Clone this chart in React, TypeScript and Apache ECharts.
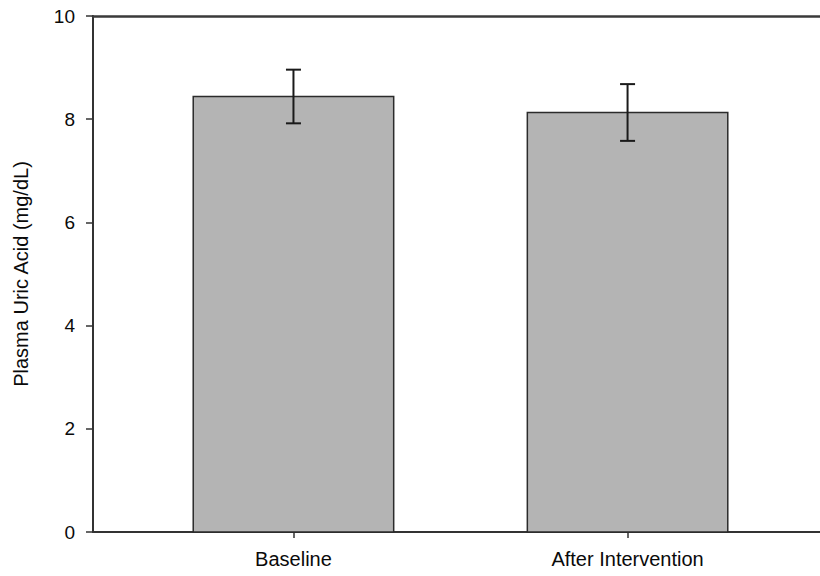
import React, { useEffect, useRef } from "react";
import * as echarts from "echarts";

// Plasma uric acid before and after the intervention (mean ± SD)
const categories = ["Baseline", "After Intervention"];
const meanValues = [8.44, 8.13];
const errorValues = [0.52, 0.55];
const yTicks = [0, 2, 4, 6, 8, 10];

const AXIS_COLOR = "#333333";
const TEXT_COLOR = "#0a0a0a";
const FONT = "'Liberation Sans', Arial, sans-serif";
const X_MIN = 0.4;
const X_MAX = 2.576;

export default function App() {
  const ref = useRef<HTMLDivElement>(null);

  useEffect(() => {
    if (!ref.current) return;
    const chart = echarts.init(ref.current, null, { renderer: "svg" });

    const positions = categories.map((_, i) => i + 1);
    const barData = positions.map((x, i) => [x, meanValues[i]]);
    const errData = positions.map((x, i) => [x, meanValues[i], errorValues[i]]);
    const halfBar = 0.3;

    chart.setOption({
      animation: false,
      backgroundColor: "#ffffff",
      grid: { left: 93, right: 0, top: 16, bottom: 44, containLabel: false },
      xAxis: [
        {
          type: "value",
          min: X_MIN,
          max: X_MAX,
          position: "bottom",
          axisLine: { show: true, lineStyle: { color: AXIS_COLOR, width: 2 } },
          axisTick: {
            show: true,
            inside: false,
            length: 6,
            customValues: positions,
            lineStyle: { color: AXIS_COLOR, width: 1.5 },
          },
          axisLabel: {
            customValues: positions,
            formatter: (v: number) => categories[Math.round(v) - 1] ?? "",
            fontFamily: FONT,
            fontSize: 20,
            color: TEXT_COLOR,
            margin: 17,
          },
          splitLine: { show: false },
        },
        {
          type: "value",
          min: X_MIN,
          max: X_MAX,
          position: "top",
          axisLine: { show: true, lineStyle: { color: "#3a3a3a", width: 2.5 } },
          axisTick: { show: false },
          axisLabel: { show: false },
          splitLine: { show: false },
        },
      ],
      yAxis: {
        type: "value",
        min: yTicks[0],
        max: yTicks[yTicks.length - 1],
        interval: 2,
        name: "Plasma Uric Acid (mg/dL)",
        nameLocation: "middle",
        nameGap: 62,
        nameTextStyle: { fontFamily: FONT, fontSize: 20, color: TEXT_COLOR },
        axisLine: { show: true, lineStyle: { color: AXIS_COLOR, width: 2 } },
        axisTick: { show: true, inside: false, length: 7, lineStyle: { color: AXIS_COLOR, width: 1.5 } },
        axisLabel: { fontFamily: FONT, fontSize: 19, color: TEXT_COLOR, margin: 18 },
        splitLine: { show: false },
      },
      series: [
        {
          type: "custom",
          xAxisIndex: 0,
          data: barData,
          renderItem: (params: any, api: any) => {
            const x = api.value(0);
            const y = api.value(1);
            const topLeft = api.coord([x - halfBar, y]);
            const bottomRight = api.coord([x + halfBar, 0]);
            return {
              type: "rect",
              shape: {
                x: topLeft[0],
                y: topLeft[1],
                width: bottomRight[0] - topLeft[0],
                height: bottomRight[1] - topLeft[1],
              },
              style: { fill: "#b4b4b4", stroke: "#2b2b2b", lineWidth: 1.5 },
            };
          },
          z: 2,
        },
        {
          type: "custom",
          xAxisIndex: 0,
          data: errData,
          renderItem: (params: any, api: any) => {
            const x = api.value(0);
            const m = api.value(1);
            const e = api.value(2);
            const hi = api.coord([x, m + e]);
            const lo = api.coord([x, m - e]);
            const cap = 7.5;
            const style = { stroke: "#1a1a1a", lineWidth: 2 };
            return {
              type: "group",
              children: [
                { type: "line", shape: { x1: hi[0], y1: hi[1], x2: lo[0], y2: lo[1] }, style },
                { type: "line", shape: { x1: hi[0] - cap, y1: hi[1], x2: hi[0] + cap, y2: hi[1] }, style },
                { type: "line", shape: { x1: lo[0] - cap, y1: lo[1], x2: lo[0] + cap, y2: lo[1] }, style },
              ],
            };
          },
          z: 3,
        },
      ],
    });

    return () => chart.dispose();
  }, []);

  return (
    <div
      ref={ref}
      style={{ position: "fixed", left: 0, top: 0, width: 820, height: 576 }}
    />
  );
}
